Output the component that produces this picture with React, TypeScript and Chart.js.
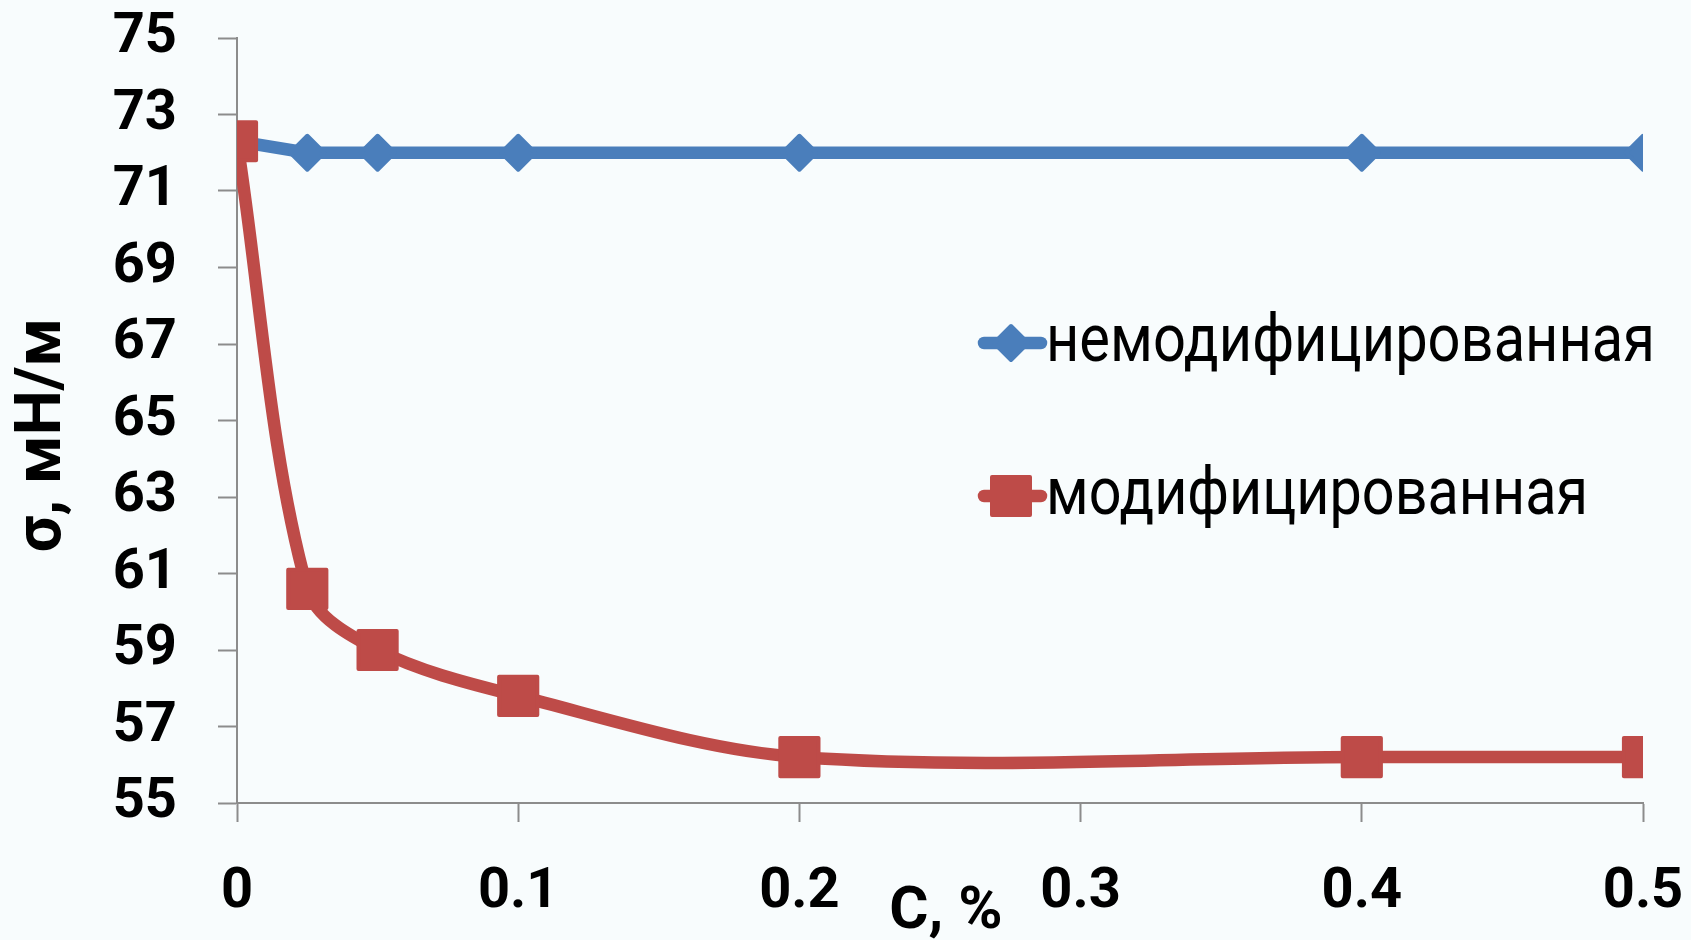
import React, { useEffect, useRef } from 'react';
import { Chart, registerables } from 'chart.js';

Chart.register(...registerables);

// ---- data ----
const concentrations = [0, 0.025, 0.05, 0.1, 0.2, 0.4, 0.5];
const unmodifiedValues = [72.3, 72.0, 72.0, 72.0, 72.0, 72.0, 72.0];
const modifiedValues = [72.3, 60.6, 59.0, 57.8, 56.2, 56.2, 56.2];
const seriesNames = ['немодифицированная', 'модифицированная'];
const yTitle = 'σ, мН/м';
const xTitle = 'C, %';
const yRange = [55, 75];
const yStep = 2;
const xRange = [0, 0.5];
const xStep = 0.1;

const BLUE = '#4A7EBB';
const RED = '#BE4B48';
const AXIS = '#8C8C8C';
const FONT = 'Roboto, "Noto Sans", sans-serif';

export default function App() {
  const canvasRef = useRef<HTMLCanvasElement | null>(null);

  useEffect(() => {
    const canvas = canvasRef.current;
    if (!canvas) return;

    const overlay = {
      id: 'overlay',
      beforeDatasetsDraw(chart: any) {
        chart.ctx.save();
        chart.ctx.lineJoin = 'round';
      },
      afterDatasetsDraw(chart: any) {
        chart.ctx.restore();
      },
      afterDraw(chart: any) {
        const ctx = chart.ctx;
        const area = chart.chartArea;
        ctx.save();
        // Y title
        ctx.fillStyle = '#000';
        ctx.font = `bold 64px ${FONT}`;
        ctx.textAlign = 'center';
        ctx.textBaseline = 'middle';
        ctx.translate(44, 435);
        ctx.rotate(-Math.PI / 2);
        ctx.fillText(yTitle, 0, 0);
        ctx.restore();

        ctx.save();
        ctx.fillStyle = '#000';
        ctx.font = `bold 60px ${FONT}`;
        ctx.textAlign = 'center';
        ctx.textBaseline = 'middle';
        ctx.fillText(xTitle, (area.left + area.right) / 2 + 6, 913);
        ctx.restore();

        // legend
        const rows = [
          { name: seriesNames[0], color: BLUE, style: 'diamond', y: 343, width: 609 },
          { name: seriesNames[1], color: RED, style: 'square', y: 496, width: 542 },
        ];
        rows.forEach((r) => {
          ctx.save();
          ctx.strokeStyle = r.color;
          ctx.fillStyle = r.color;
          ctx.lineWidth = 12.5;
          ctx.lineCap = 'round';
          ctx.lineJoin = 'round';
          ctx.beginPath();
          ctx.moveTo(984, r.y);
          ctx.lineTo(1041, r.y);
          ctx.stroke();
          const cx = 1011;
          ctx.lineWidth = 4;
          ctx.beginPath();
          if (r.style === 'diamond') {
            const h = 17;
            ctx.moveTo(cx, r.y - h);
            ctx.lineTo(cx + h, r.y);
            ctx.lineTo(cx, r.y + h);
            ctx.lineTo(cx - h, r.y);
          } else {
            const h = 19;
            ctx.rect(cx - h, r.y - h, 2 * h, 2 * h);
          }
          ctx.closePath();
          ctx.fill();
          ctx.stroke();
          ctx.fillStyle = '#000';
          ctx.font = `66px ${FONT}`;
          ctx.textAlign = 'left';
          ctx.textBaseline = 'alphabetic';
          ctx.fillText(r.name, 1046, r.y + 18, r.width);
          ctx.restore();
        });
      },
    };

    const chart = new Chart(canvas, {
      type: 'line',
      data: {
        datasets: [
          {
            label: seriesNames[1],
            data: concentrations.map((x, i) => ({ x, y: modifiedValues[i] })),
            borderColor: RED,
            backgroundColor: RED,
            borderWidth: 12.5,
            tension: 0.33,
            borderJoinStyle: 'round',
            borderCapStyle: 'round',
            pointStyle: 'rect',
            pointRadius: 27,
            pointBorderWidth: 4,
            pointBackgroundColor: RED,
            pointBorderColor: RED,
            order: 0,
          },
          {
            label: seriesNames[0],
            data: concentrations.map((x, i) => ({ x, y: unmodifiedValues[i] })),
            borderColor: BLUE,
            backgroundColor: BLUE,
            borderWidth: 12.5,
            tension: 0,
            borderJoinStyle: 'round',
            borderCapStyle: 'round',
            pointStyle: 'rectRot',
            pointRadius: 17,
            pointBorderWidth: 4,
            pointBackgroundColor: BLUE,
            pointBorderColor: BLUE,
            order: 1,
          },
        ],
      },
      options: {
        responsive: false,
        animation: false,
        layout: { autoPadding: false, padding: { top: 38, right: 48, left: 0, bottom: 0 } },
        plugins: {
          legend: { display: false },
          tooltip: { enabled: false },
          title: { display: false },
        },
        scales: {
          x: {
            type: 'linear',
            min: xRange[0],
            max: xRange[1],
            afterFit: (s: any) => {
              s.height = 137;
              s.paddingLeft = 0;
              s.paddingRight = 0;
              s.paddingTop = 0;
              s.paddingBottom = 0;
            },
            grid: {
              drawOnChartArea: false,
              drawTicks: true,
              tickLength: 19,
              tickColor: AXIS,
              tickWidth: 2,
            },
            border: { display: true, color: AXIS, width: 2 },
            ticks: {
              stepSize: xStep,
              padding: 37,
              color: '#000',
              font: { family: FONT, size: 56, weight: 'bold' },
              maxRotation: 0,
              autoSkip: false,
              callback: (v: any) => String(Math.round(Number(v) * 10) / 10),
            },
          },
          y: {
            min: yRange[0],
            max: yRange[1],
            afterFit: (s: any) => {
              s.width = 237;
              s.paddingLeft = 0;
              s.paddingRight = 0;
              s.paddingTop = 0;
              s.paddingBottom = 0;
            },
            grid: {
              drawOnChartArea: false,
              drawTicks: true,
              tickLength: 19,
              tickColor: AXIS,
              tickWidth: 2,
            },
            border: { display: true, color: AXIS, width: 2 },
            ticks: {
              stepSize: yStep,
              padding: 41,
              color: '#000',
              font: { family: FONT, size: 56, weight: 'bold' },
            },
          },
        },
      },
      plugins: [overlay],
    } as any);

    return () => chart.destroy();
  }, []);

  return (
    <div
      style={{
        position: 'fixed',
        left: 0,
        top: 0,
        width: 1691,
        height: 940,
        background: '#f8fcfd',
      }}
    >
      <canvas ref={canvasRef} width={1691} height={940} style={{ width: 1691, height: 940, display: 'block' }} />
    </div>
  );
}
